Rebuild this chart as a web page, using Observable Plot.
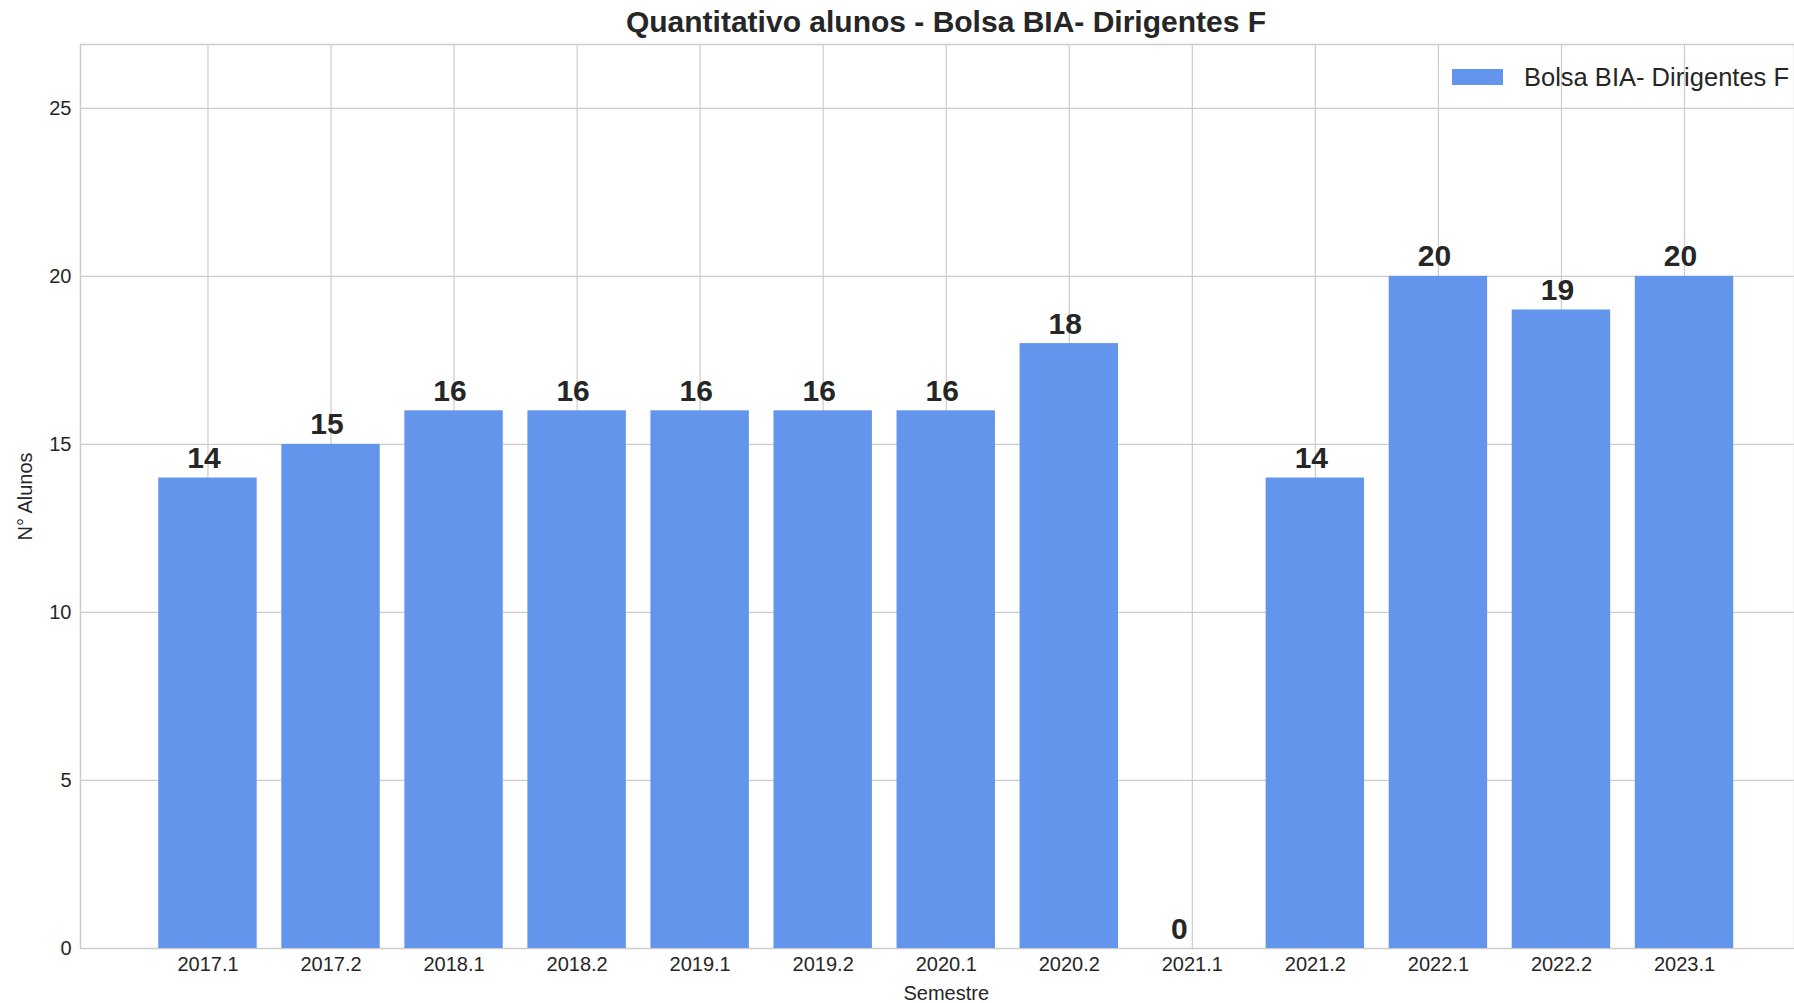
<!DOCTYPE html>
<html>
<head>
<meta charset="utf-8">
<script src="https://cdn.jsdelivr.net/npm/d3@7"></script>
<script src="https://cdn.jsdelivr.net/npm/@observablehq/plot@0.6"></script>
<style>
  html, body { margin: 0; padding: 0; background: #fff; overflow: hidden; }
  #wrap { position: relative; width: 1794px; height: 1003px; font-family: "Liberation Sans", Arial, sans-serif; color: #262626; }
  #title { position: absolute; left: 0; width: 1892px; top: 5px; text-align: center; font-weight: bold; font-size: 30px; line-height: 34px; }
  #legend { position: absolute; left: 1452px; top: 63px; display: flex; align-items: center; font-size: 25.5px; line-height: 28px; white-space: nowrap; }
  #legend .sw { width: 51px; height: 16px; background: #6495ED; margin-right: 21px; }
  svg { display: block; }
</style>
</head>
<body>
<div id="wrap">
  <div id="chart"></div>
  <div id="title">Quantitativo alunos - Bolsa BIA- Dirigentes F</div>
  <div id="legend"><div class="sw"></div><span>Bolsa BIA- Dirigentes F</span></div>
</div>
<script>
const semestres = ["2017.1","2017.2","2018.1","2018.2","2019.1","2019.2","2020.1","2020.2","2021.1","2021.2","2022.1","2022.2","2023.1"];
const alunos = [14, 15, 16, 16, 16, 16, 16, 18, 0, 14, 20, 19, 20];
const yTicks = [0, 5, 10, 15, 20, 25];
const xLabel = "Semestre";
const yLabel = "N° Alunos";

const data = semestres.map((s, i) => ({i, semestre: s, alunos: alunos[i]}));
const ink = "#262626";
const gridColor = "#cccccc";

const chart = Plot.plot({
  width: 1794,
  height: 1003,
  marginLeft: 80,
  marginRight: 0,
  marginTop: 44,
  marginBottom: 55,
  style: {fontFamily: '"Liberation Sans", Arial, sans-serif', color: ink, background: "#fff"},
  x: {type: "linear", domain: [-1.036, 12.894]},
  y: {domain: [0, 26.9]},
  marks: [
    Plot.gridX(d3.range(semestres.length), {stroke: gridColor, strokeOpacity: 1, strokeWidth: 1.2}),
    Plot.gridY(yTicks, {stroke: gridColor, strokeOpacity: 1, strokeWidth: 1.2}),
    Plot.frame({stroke: gridColor, strokeWidth: 1.5}),
    Plot.rectY(data, {x1: d => d.i - 0.4, x2: d => d.i + 0.4, y: "alunos", fill: "#6495ED"}),
    Plot.axisX(d3.range(semestres.length), {tickSize: 0, tickPadding: 8, tickFormat: i => semestres[i], fontSize: 20, fill: ink, label: null}),
    Plot.axisY(yTicks, {tickSize: 0, tickPadding: 9, fontSize: 20, fill: ink, label: null}),
    Plot.text(data.filter(d => d.alunos !== 0), {x: "i", y: "alunos", text: d => String(d.alunos), fontSize: 30, fontWeight: "bold", fill: ink, lineAnchor: "bottom", dy: -10, dx: -4}),
    Plot.text(data.filter(d => d.alunos === 0), {x: "i", y: "alunos", text: d => String(d.alunos), fontSize: 30, fontWeight: "bold", fill: ink, lineAnchor: "bottom", dy: -10, dx: -13}),
    Plot.text([xLabel], {x: 6, frameAnchor: "bottom", text: d => d, fontSize: 20, fill: ink, lineAnchor: "top", dy: 37}),
    Plot.text([yLabel], {frameAnchor: "left", text: d => d, fontSize: 20, fill: ink, rotate: -90, textAnchor: "middle", dx: -55})
  ]
});
document.getElementById("chart").appendChild(chart);
</script>
</body>
</html>
